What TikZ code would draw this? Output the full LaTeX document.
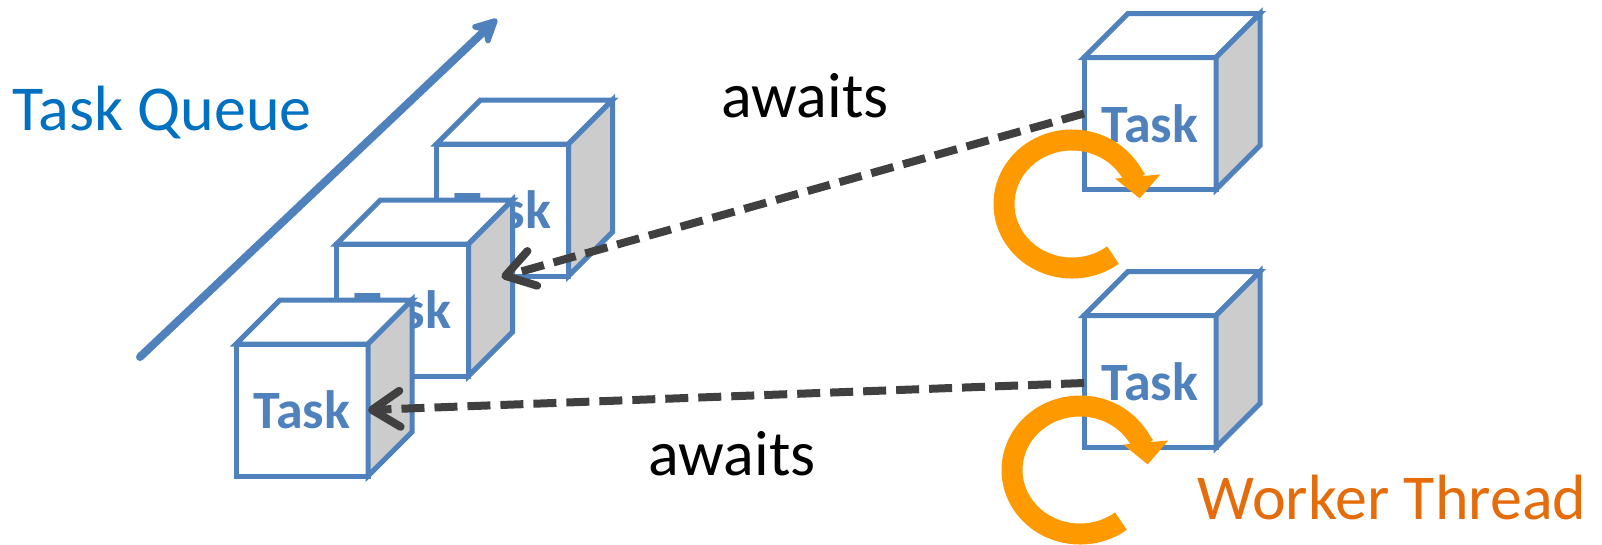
\documentclass[tikz,border=0pt]{standalone}
\usepackage{fontspec}
\setmainfont{Carlito}
\usetikzlibrary{arrows.meta,calc}

\definecolor{cubeblue}{HTML}{4F81BD}
\definecolor{queueblue}{HTML}{0070C0}
\definecolor{sidegray}{HTML}{CCCCCC}
\definecolor{waitgray}{HTML}{404040}
\definecolor{spinorange}{HTML}{FF9900}
\definecolor{workerorange}{HTML}{E46C0A}

% edge length of a cube face and depth offset of the back edges
\newcommand{\cubeside}{132}
\newcommand{\cubedepth}{44}

% one cube: a named front face carrying the label, then its top and side faces
\newcommand{\drawtaskcube}[3]{%
  \node[cubeface] (#1) at (#2,#3) {Task};
  \draw[cubeedge, fill=white] (#1.north west) -- ++(\cubedepth,\cubedepth)
      -- ++(\cubeside,0) -- (#1.north east) -- cycle;
  \draw[cubeedge, fill=sidegray] (#1.north east) -- ++(\cubedepth,\cubedepth)
      -- ++(0,-\cubeside) -- (#1.south east) -- cycle;
}

\tikzset{
  cubeedge/.style={draw=cubeblue, line width=5pt},
  cubeface/.style={cubeedge, fill=white, rectangle, outer sep=0pt, inner sep=0pt,
    minimum width=\cubeside pt, minimum height=\cubeside pt,
    text=cubeblue, font=\fontsize{54}{64}\selectfont\bfseries},
  bigtext/.style={inner sep=0pt, anchor=base, font=\fontsize{64}{76}\selectfont},
  queuearrow/.style={draw=cubeblue, line width=8pt, line cap=round,
    -{Stealth[length=32pt, width=32pt, inset=10pt, round]}},
  waitarrow/.style={draw=waitgray, line width=8pt, dash pattern=on 23pt off 10pt,
    -{Straight Barb[length=28pt, width=36pt, round]}},
  spinarrow/.style={draw=spinorange, line width=21pt,
    -{Triangle[length=22pt, width=44pt]}},
}

\begin{document}
\begin{tikzpicture}[x=1pt, y=1pt]
\useasboundingbox (0,0) rectangle (1602,-544);

% queue direction
\node[bigtext, anchor=base west, text=queueblue] (tq) at (12,-130) {Task Queue};
\coordinate (qstart) at (140,-357);
\coordinate (qend) at (497,-19);
\draw[queuearrow] (qstart) -- (qend);

% queued tasks, back to front
\drawtaskcube{c3}{502.5}{-210}
\drawtaskcube{c2}{402.5}{-310}
\drawtaskcube{c1}{302}{-410}

% running tasks
\drawtaskcube{r1}{1150}{-123.5}
\drawtaskcube{r2}{1150}{-381.5}

% await links
\coordinate (c2tip) at ($(c2.east)+(33,33)$);
\draw[waitarrow] ([yshift=10pt]r1.west) -- (c2tip);
\draw[waitarrow] ([yshift=-1.5pt]r2.west) -- (c1.east);

\node[bigtext] (aw1) at (805,-117) {awaits};
\node[bigtext] (aw2) at (732,-475) {awaits};

% worker thread loops
\coordinate (spin1) at (1072,-204);
\coordinate (spin2) at (1080,-470);
\draw[spinarrow] (spin1) ++(-53:68 and 64)
  arc[start angle=-53, end angle=-355, x radius=68, y radius=64];
\draw[spinarrow] (spin2) ++(-53:68 and 64)
  arc[start angle=-53, end angle=-355, x radius=68, y radius=64];

\node[bigtext, text=workerorange] (wt) at (1392,-519) {Worker Thread};
\end{tikzpicture}
\end{document}
